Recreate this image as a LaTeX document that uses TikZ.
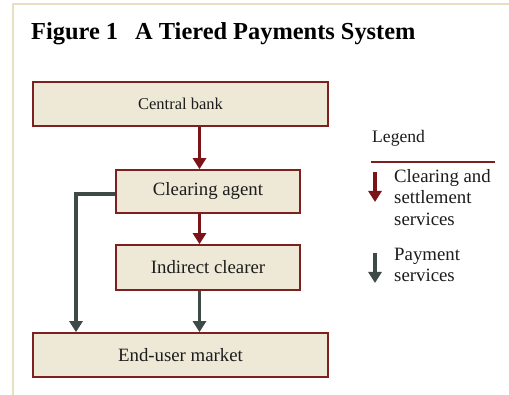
\documentclass[tikz,border=0pt]{standalone}
\usepackage{fontspec}
\setmainfont{Liberation Serif}
\usepackage{tikz}
\usetikzlibrary{arrows.meta}
\definecolor{TierRed}{HTML}{7A1418}
\definecolor{TierBorder}{HTML}{7D2020}
\definecolor{TierGrey}{HTML}{3E4A46}
\definecolor{TierTan}{HTML}{EEE8D6}
\definecolor{TierFrame}{HTML}{E8DFC0}
\definecolor{TierInk}{HTML}{1C1C1C}

\begin{document}
\begin{tikzpicture}[x=1pt,y=-1pt,>={Triangle[length=11pt,width=13pt]},
    tier/.style={draw=TierBorder,fill=TierTan,line width=1.7pt,minimum height=44pt,inner sep=0pt,
      text=TierInk,font=\fontsize{18.8}{21.5}\selectfont},
    settle/.style={->,TierRed,line width=3.2pt},
    pay/.style={->,TierGrey,line width=3.2pt},
    legtext/.style={anchor=north west,align=left,inner sep=0pt,text=TierInk,font=\fontsize{18.8}{21.5}\selectfont}]
    \fill[white] (0,0) rectangle (509,395);
    \useasboundingbox (0,0) rectangle (509,395);
    % frame
    \draw[TierFrame,line width=2pt] (13,395)--(13,4.3)--(509,4.3);
    \node[anchor=base west,inner sep=0pt,text=black,font=\fontsize{24.4}{28}\selectfont\bfseries] (title) at (31,40)
      {Figure 1\hspace{17pt}A Tiered Payments System};
    % the tiers
    \node[tier,minimum width=295pt,font=\fontsize{16.5}{19}\selectfont] (cb) at (180.5,104) {Central bank};
    \node[tier,minimum width=184pt,minimum height=43pt] (ca) at (208,191.5) {Clearing agent};
    \node[tier,minimum width=184pt,minimum height=45pt] (ic) at (208,267.5) {Indirect clearer};
    \node[tier,minimum width=295pt] (eu) at (180.5,355) {End-user market};
    \coordinate (spine) at (199.5,0);
    \coordinate (bypass) at (76,0);
    \draw[settle] (cb.south -| spine)--(ca.north -| spine);
    \draw[settle] (ca.south -| spine)--(ic.north -| spine);
    \draw[pay] (ic.south -| spine)--(eu.north -| spine);
    \draw[pay] ([yshift=-2.5pt]ca.west) -| (eu.north -| bypass);
    % legend
    \node[anchor=base west,inner sep=0pt,text=TierInk,font=\fontsize{17.6}{21}\selectfont] (legend) at (372,142.5) {Legend};
    \draw[TierBorder,line width=2.2pt] (371,161.7)--(495,161.7);
    \node[legtext] (lgcs) at (394,168.9) {Clearing and\\settlement\\services};
    \node[legtext] (lgps) at (394,247.5) {Payment\\services};
    \coordinate (cskey) at (375,172);
    \coordinate (pskey) at (375,253);
    \draw[settle] (cskey)--++(0,30);
    \draw[pay] (pskey)--++(0,30);
  \end{tikzpicture}
\end{document}
